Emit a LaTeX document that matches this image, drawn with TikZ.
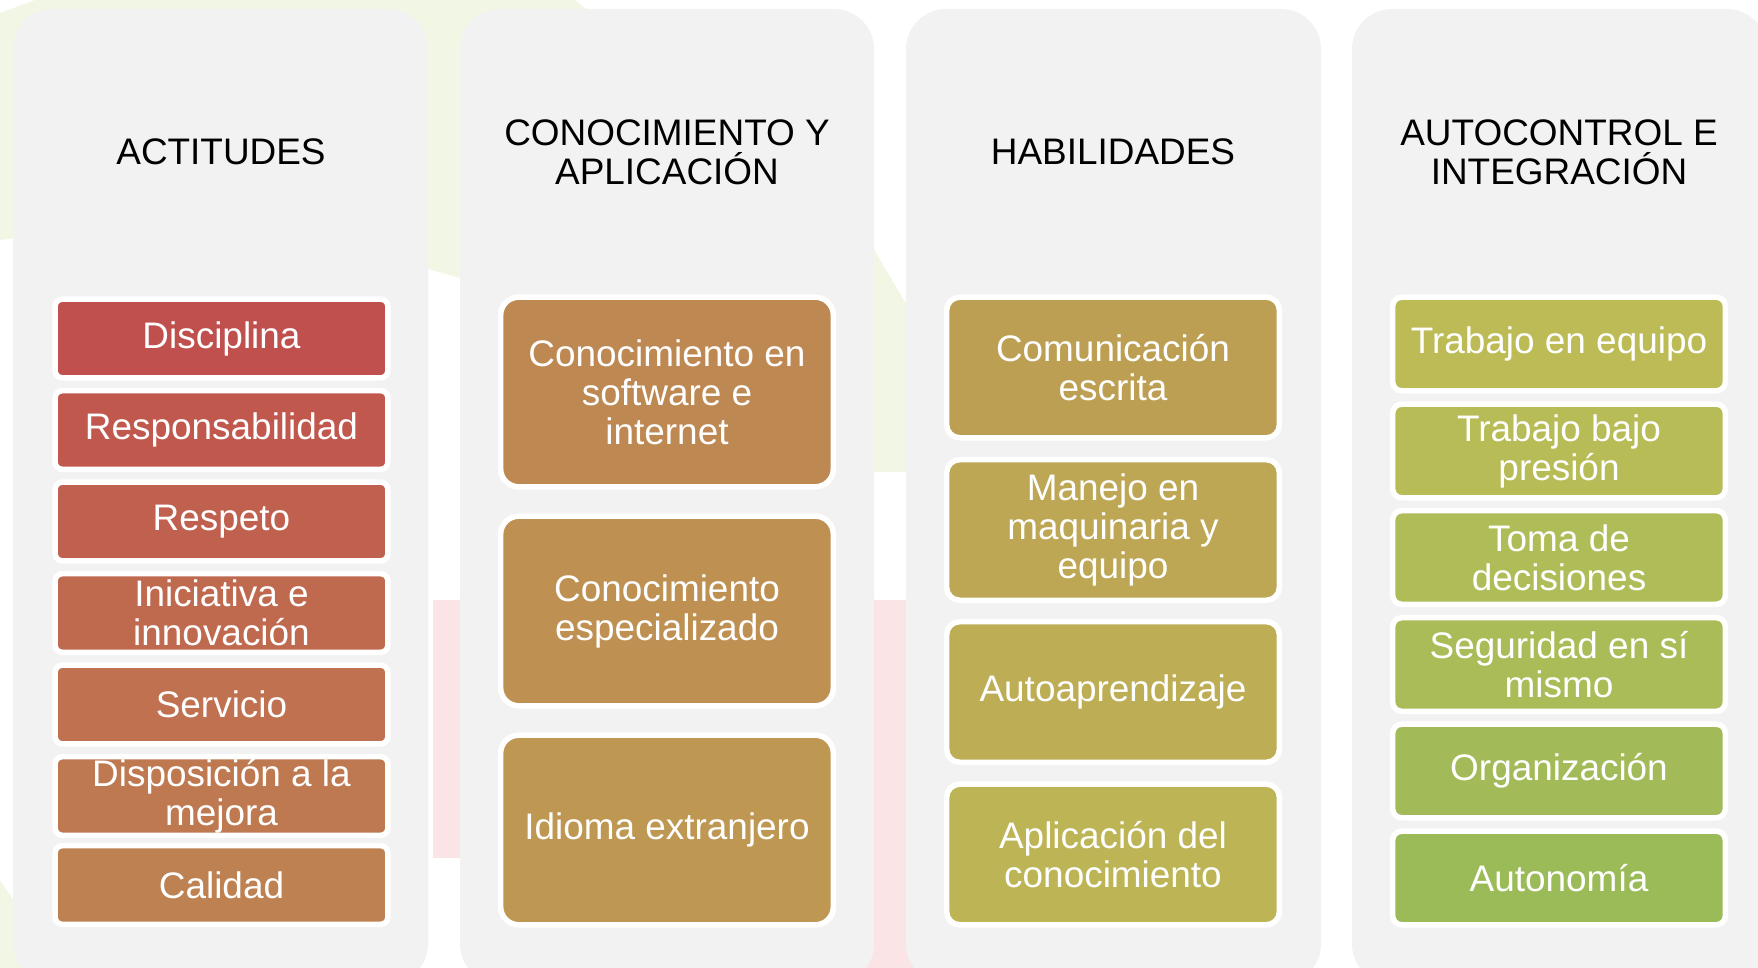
\documentclass[tikz,border=0pt]{standalone}
\usepackage{fontspec}
\setmainfont{Liberation Sans}

% colours of the cells, red to green
\definecolor{tone1}{HTML}{C0504D}
\definecolor{tone2}{HTML}{C0584E}
\definecolor{tone3}{HTML}{BF614E}
\definecolor{tone4}{HTML}{BF694F}
\definecolor{tone5}{HTML}{BF7150}
\definecolor{tone6}{HTML}{BF7950}
\definecolor{tone7}{HTML}{BE8151}
\definecolor{tone8}{HTML}{BE8852}
\definecolor{tone9}{HTML}{BE9052}
\definecolor{tone10}{HTML}{BE9753}
\definecolor{tone11}{HTML}{BD9F53}
\definecolor{tone12}{HTML}{BDA654}
\definecolor{tone13}{HTML}{BDAD55}
\definecolor{tone14}{HTML}{BDB455}
\definecolor{tone15}{HTML}{BCBB56}
\definecolor{tone16}{HTML}{B7BC57}
\definecolor{tone17}{HTML}{B0BC57}
\definecolor{tone18}{HTML}{A9BC58}
\definecolor{tone19}{HTML}{A2BB58}
\definecolor{tone20}{HTML}{9BBB59}
\definecolor{panelgray}{HTML}{F2F2F2}
\definecolor{palegreen}{HTML}{F2F7E5}
\definecolor{palepink}{HTML}{FBE4E6}

\tikzstyle{panel}=[fill=panelgray, rounded corners=0.4cm]
\tikzstyle{heading}=[align=center, font=\fontsize{10.5}{11.1}\selectfont]
\tikzstyle{cell}=[draw=white, line width=0.055cm, text=white, align=center, inner sep=0pt,
  minimum width=3.325cm, font=\fontsize{10.5}{11.1}\selectfont]
\tikzstyle{actitud}=[cell, minimum height=0.785cm, rounded corners=0.07cm]
\tikzstyle{saber}=[cell, minimum height=1.895cm, rounded corners=0.18cm]
\tikzstyle{habil}=[cell, minimum height=1.405cm, rounded corners=0.13cm]
\tikzstyle{control}=[cell, minimum height=0.935cm, rounded corners=0.09cm]

\begin{document}
\begin{tikzpicture}[x=0.01cm, y=-0.01cm]
      \useasboundingbox (0,0) rectangle (1758,968);

      % faint shapes behind
      \fill[palegreen] (0,13) -- (35,0) -- (575,0) -- (860,226) -- (960,395) -- (960,472)
        -- (640,472) -- (640,328) -- (428,269) -- (200,215) -- (0,240) -- cycle;
      \fill[palegreen] (0,880) -- (59,968) -- (0,968) -- cycle;
      \fill[palepink] (433,600) -- (1000,600) -- (1000,990) -- (600,990)
        -- (600,858) -- (433,858) -- cycle;

      \fill[panel] (13,9) rectangle (428,984);
      \fill[panel] (460,9) rectangle (874,984);
      \fill[panel] (906,9) rectangle (1321,984);
      \fill[panel] (1352,9) rectangle (1767,984);

      \node[heading] (h1) at (221,152) {ACTITUDES};
      \node[heading] (h2) at (667,152) {CONOCIMIENTO Y\\APLICACIÓN};
      \node[heading] (h3) at (1113,152) {HABILIDADES};
      \node[heading] (h4) at (1559,152) {AUTOCONTROL E\\INTEGRACIÓN};

      \node[actitud, fill=tone1] (disciplina) at (221.5,338.5) {Disciplina};
      \node[actitud, fill=tone2] (responsabilidad) at (221.5,430) {Responsabilidad};
      \node[actitud, fill=tone3] (respeto) at (221.5,521.5) {Respeto};
      \node[actitud, fill=tone4] (iniciativa) at (221.5,613) {Iniciativa e\\innovación};
      \node[actitud, fill=tone5] (servicio) at (221.5,704.5) {Servicio};
      \node[actitud, fill=tone6] (disposicion) at (221.5,796) {Disposición a la\\mejora};
      \node[actitud, fill=tone7] (calidad) at (221.5,885) {Calidad};

      \node[saber, fill=tone8] (software) at (667,392) {Conocimiento en\\software e\\internet};
      \node[saber, fill=tone9] (especializado) at (667,611) {Conocimiento\\especializado};
      \node[saber, fill=tone10] (idioma) at (667,830) {Idioma extranjero};

      \node[habil, fill=tone11] (comunicacion) at (1113,367.5) {Comunicación\\escrita};
      \node[habil, fill=tone12] (maquinaria) at (1113,530) {Manejo en\\maquinaria y\\equipo};
      \node[habil, fill=tone13] (autoaprendizaje) at (1113,692) {Autoaprendizaje};
      \node[habil, fill=tone14] (aplicacion) at (1113,854.5) {Aplicación del\\conocimiento};

      \node[control, fill=tone15] (equipo) at (1559,344) {Trabajo en equipo};
      \node[control, fill=tone16] (presion) at (1559,451) {Trabajo bajo\\presión};
      \node[control, fill=tone17] (decisiones) at (1559,557.5) {Toma de\\decisiones};
      \node[control, fill=tone18] (seguridad) at (1559,664.5) {Seguridad en sí\\mismo};
      \node[control, fill=tone19] (organizacion) at (1559,771) {Organización};
      \node[control, fill=tone20] (autonomia) at (1559,878) {Autonomía};
    \end{tikzpicture}
\end{document}
